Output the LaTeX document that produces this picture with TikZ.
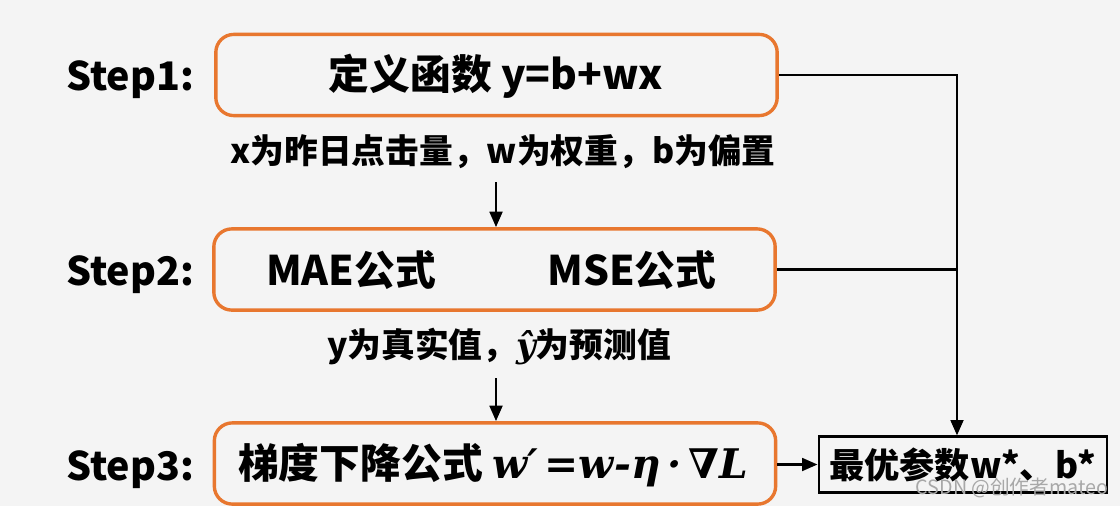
\documentclass[tikz,border=0pt]{standalone}
\usepackage{fontspec}
\setmainfont{Noto Sans CJK SC}
\newfontfamily\formfont{DejaVu Serif}
\usetikzlibrary{arrows.meta,positioning,calc}
\definecolor{cOrange}{HTML}{E8772F}
\definecolor{cBg}{HTML}{F4F4F4}
\definecolor{cMark}{HTML}{A8A8A8}
\tikzset{
  stepbox/.style = {rectangle, rounded corners=0.45cm, draw=cOrange, line width=2.4pt,
                    minimum width=14.03cm, minimum height=2.03cm, inner sep=0pt},
  steplbl/.style = {anchor=base west, inner sep=0pt, font=\fontsize{28}{33}\selectfont\bfseries},
  boxtxt/.style  = {inner sep=0pt, font=\fontsize{29}{34}\selectfont\bfseries},
  subtxt/.style  = {inner sep=0pt, font=\fontsize{24}{28}\selectfont\bfseries},
  resbox/.style  = {rectangle, draw=black, line width=2pt, minimum width=7.2cm,
                    minimum height=1.38cm, inner sep=0pt, font=\fontsize{25}{30}\selectfont\bfseries},
  flow/.style    = {-{Triangle[length=11pt,width=9pt]}, draw=black, line width=2pt},
  link/.style    = {draw=black, line width=2pt},
}
\newcommand{\gdrule}{{\formfont\bfseries\itshape w′\,=w-η\,·\,∇L}}
\newcommand{\yhat}{{\formfont\itshape ŷ}}

\begin{document}
\begin{tikzpicture}[x=0.025cm, y=-0.025cm]
  \fill[cBg] (0,0) rectangle (1120,506);
  \useasboundingbox (0,0) rectangle (1120,506);

  \node[steplbl] (s1) at (66,90) {Step1:};
  \node[steplbl] (s2) at (66,285) {Step2:};
  \node[steplbl] (s3) at (66,480) {Step3:};

  \node[stepbox] (b1) at (496.5,75) {};
  \node[stepbox] (b2) at (494.5,269.5) {};
  \node[stepbox] (b3) at (495,463.5) {};

  \node[boxtxt] (t1) at (496,76) {定义函数 y=b+wx};
  \node[boxtxt] (t2a) at (351,270) {MAE公式};
  \node[boxtxt] (t2b) at (632,270) {MSE公式};
  \node[boxtxt] (t3) at (493,465) {梯度下降公式 \gdrule};

  \node[subtxt] (d1) at (503,152) {x为昨日点击量，w为权重，b为偏置};
  \node[subtxt] (d2) at (499,347) {y为真实值，\yhat 为预测值};

  \node[resbox] (res) at (963,464.5) {最优参数w*、b*};

  \coordinate (a1) at (496,182);
  \coordinate (a2) at (496,378);
  \draw[flow] (a1) -- (a1 |- b2.north);
  \draw[flow] (a2) -- (a2 |- b3.north);
  \draw[flow] (b1.east) -| ([xshift=-0.15cm]res.north);
  \draw[link] (b2.east) -- ([xshift=-0.15cm]res.north |- b2.east);
  \draw[flow] (b3.east |- res.west) -- (res.west);

  \node[text=cMark, inner sep=0pt, font=\fontsize{14}{16}\selectfont] (wm) at (1012,488) {CSDN @创作者mateo};
\end{tikzpicture}
\end{document}
